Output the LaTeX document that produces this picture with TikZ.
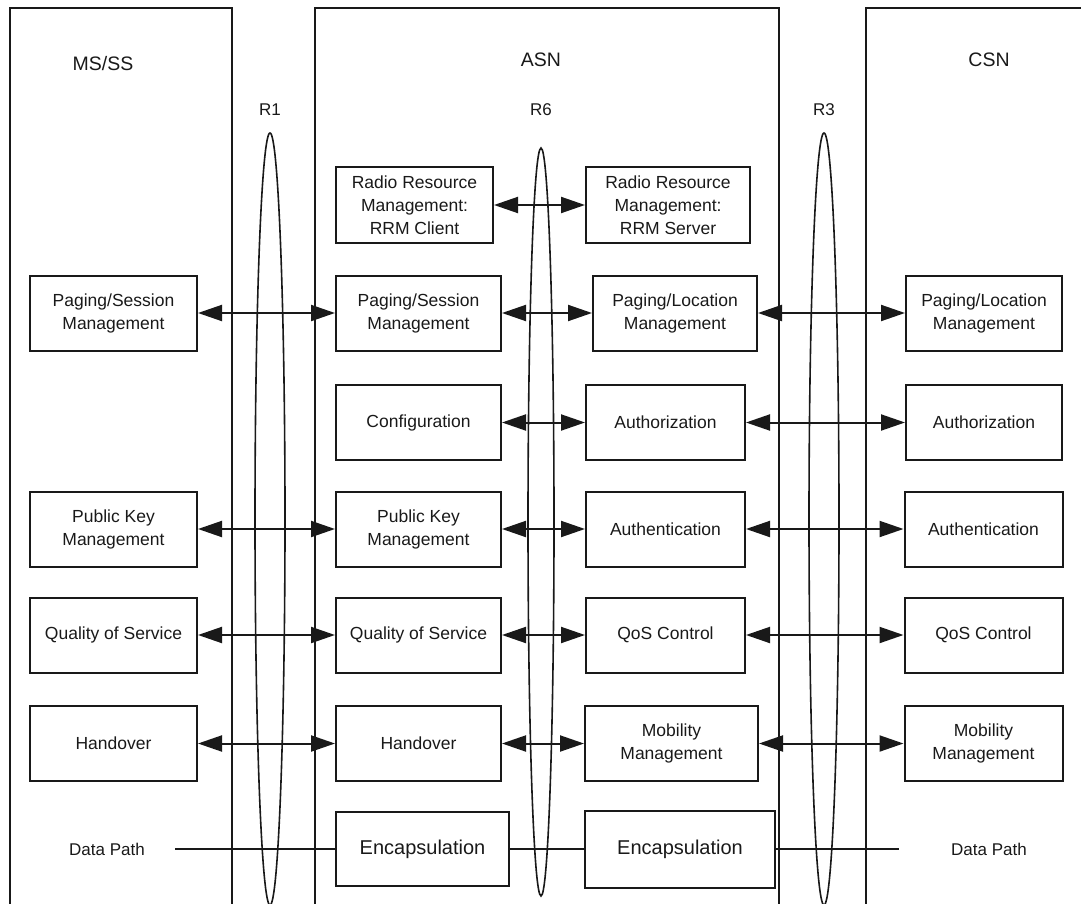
\documentclass[tikz,border=0pt]{standalone}
\usepackage{fontspec}
\setmainfont{Liberation Sans}
\usetikzlibrary{arrows.meta}

\begin{document}
\begin{tikzpicture}[x=1pt, y=-1pt,
    frame/.style={draw=black!90, line width=2pt},
    func/.style={draw=black!90, line width=2pt, align=center, inner sep=2pt,
        minimum height=75pt, text=black!90, font=\fontsize{17.5}{23}\selectfont},
    link/.style={draw=black!90, line width=2pt,
        {Triangle[length=24pt,width=16pt]}-{Triangle[length=24pt,width=16pt]}},
    datapath/.style={draw=black!90, line width=2.2pt},
    refpt/.style={draw=black!90, line width=1.6pt},
    title/.style={text=black!90, font=\fontsize{19.5}{22}\selectfont},
    label/.style={text=black!90, font=\fontsize{17}{20}\selectfont}]

    \useasboundingbox (0,0) rectangle (1081,904);
    \clip (0,0) rectangle (1081,904);

    % Network domains
    \draw[frame] (10,912) -- (10,8) -- (232,8) -- (232,912);
    \draw[frame] (315,912) -- (315,8) -- (779,8) -- (779,912);
    \draw[frame] (866,912) -- (866,8) -- (1090,8);
    \node[title] (msss) at (103,64) {MS/SS};
    \node[title] (asn) at (541,60) {ASN};
    \node[title] (csn) at (989,60) {CSN};

    % Reference points
    \draw[refpt] (270,519) ellipse [x radius=15pt, y radius=386pt];
    \draw[refpt] (541,522) ellipse [x radius=13pt, y radius=374pt];
    \draw[refpt] (824,519) ellipse [x radius=15pt, y radius=386pt];
    \node[label] (r1) at (270,110) {R1};
    \node[label] (r6) at (541,110) {R6};
    \node[label] (r3) at (824,110) {R3};

    % MS/SS functions
    \node[func, minimum width=167pt] (ms-pag) at (113.5,313) {Paging/Session\\Management};
    \node[func, minimum width=167pt] (ms-pkm) at (113.5,529) {Public Key\\Management};
    \node[func, minimum width=167pt] (ms-qos) at (113.5,635) {Quality of Service};
    \node[func, minimum width=167pt] (ms-ho) at (113.5,743.5) {Handover};

    % ASN functions (left column)
    \node[func, minimum width=157pt, minimum height=76pt] (asn-rrmc) at (414.5,205)
        {Radio Resource\\Management:\\RRM Client};
    \node[func, minimum width=165pt] (asn-pag) at (418.5,313) {Paging/Session\\Management};
    \node[func, minimum width=165pt] (asn-cfg) at (418.5,422.5) {Configuration};
    \node[func, minimum width=165pt] (asn-pkm) at (418.5,529) {Public Key\\Management};
    \node[func, minimum width=165pt] (asn-qos) at (418.5,635) {Quality of Service};
    \node[func, minimum width=165pt] (asn-ho) at (418.5,743.5) {Handover};
    \node[func, minimum width=173pt, minimum height=74pt, font=\fontsize{20}{23}\selectfont]
        (asn-encl) at (422.5,849) {Encapsulation};

    % ASN functions (right column)
    \node[func, minimum width=164pt, minimum height=76pt] (asn-rrms) at (668,205)
        {Radio Resource\\Management:\\RRM Server};
    \node[func, minimum width=164pt] (asn-ploc) at (675,313) {Paging/Location\\Management};
    \node[func, minimum width=159pt] (asn-authz) at (665.5,422.5) {Authorization};
    \node[func, minimum width=159pt] (asn-authn) at (665.5,529) {Authentication};
    \node[func, minimum width=159pt] (asn-qosc) at (665.5,635) {QoS Control};
    \node[func, minimum width=173pt] (asn-mob) at (671.5,743.5) {Mobility\\Management};
    \node[func, minimum width=190pt, minimum height=77pt, font=\fontsize{20}{23}\selectfont]
        (asn-encr) at (680,849) {Encapsulation};

    % CSN functions
    \node[func, minimum width=156pt] (csn-ploc) at (984,313) {Paging/Location\\Management};
    \node[func, minimum width=156pt] (csn-authz) at (984,422.5) {Authorization};
    \node[func, minimum width=158pt] (csn-authn) at (983.5,529) {Authentication};
    \node[func, minimum width=158pt] (csn-qosc) at (983.5,635) {QoS Control};
    \node[func, minimum width=158pt] (csn-mob) at (983.5,743.5) {Mobility\\Management};

    % R1 links
    \draw[link] (ms-pag.east) -- (asn-pag.west);
    \draw[link] (ms-pkm.east) -- (asn-pkm.west);
    \draw[link] (ms-qos.east) -- (asn-qos.west);
    \draw[link] (ms-ho.east) -- (asn-ho.west);

    % R6 links
    \draw[link] (asn-rrmc.east) -- (asn-rrms.west);
    \draw[link] (asn-pag.east) -- (asn-ploc.west);
    \draw[link] (asn-cfg.east) -- (asn-authz.west);
    \draw[link] (asn-pkm.east) -- (asn-authn.west);
    \draw[link] (asn-qos.east) -- (asn-qosc.west);
    \draw[link] (asn-ho.east) -- (asn-mob.west);

    % R3 links
    \draw[link] (asn-ploc.east) -- (csn-ploc.west);
    \draw[link] (asn-authz.east) -- (csn-authz.west);
    \draw[link] (asn-authn.east) -- (csn-authn.west);
    \draw[link] (asn-qosc.east) -- (csn-qosc.west);
    \draw[link] (asn-mob.east) -- (csn-mob.west);

    % Data path
    \node[label] (ms-dp) at (107,849) {Data Path};
    \node[label] (csn-dp) at (989,849) {Data Path};
    \coordinate (dp-l) at (175,849);
    \coordinate (dp-r) at (899,849);
    \draw[datapath] (dp-l) -- (asn-encl.west);
    \draw[datapath] (asn-encl.east) -- (asn-encr.west);
    \draw[datapath] (asn-encr.east) -- (dp-r);
\end{tikzpicture}
\end{document}
